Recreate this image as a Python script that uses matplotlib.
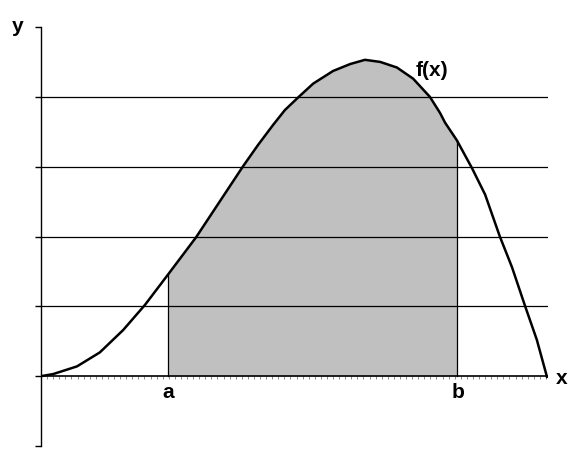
import matplotlib
matplotlib.use("Agg")
import matplotlib.pyplot as plt
import numpy as np

# curve f(x)
curve_x = [0.0, 0.24, 0.71, 1.16, 1.62, 2.05, 2.50, 3.06, 3.98, 4.28, 4.58, 4.81, 5.07,
           5.37, 5.76, 6.10, 6.39, 6.69, 7.02, 7.34, 7.67, 7.87, 7.97, 8.20, 8.50, 8.76,
           9.05, 9.29, 9.55, 9.78, 9.98]
curve_y = [0.0, 0.03, 0.14, 0.34, 0.66, 1.02, 1.45, 1.99, 3.00, 3.31, 3.60, 3.81, 3.99,
           4.19, 4.37, 4.47, 4.53, 4.50, 4.42, 4.26, 4.00, 3.77, 3.63, 3.38, 2.98, 2.60,
           2.00, 1.56, 1.00, 0.52, -0.01]
a_val = 2.50
b_val = 8.20
grid_levels = [1, 2, 3, 4]

fig = plt.figure(figsize=(5.86, 4.76), dpi=100)
ax = fig.add_axes([41/586, 1 - 446/476, 507/586, (446 - 27)/476])
ax.set_xlim(0, 10)
ax.set_ylim(-1, 5)

cx = np.array(curve_x)
cy = np.array(curve_y)
mask = (cx >= a_val) & (cx <= b_val)
ax.fill_between(cx[mask], 0, cy[mask], color="#c0c0c0", lw=0, zorder=1)

for g in grid_levels:
    ax.axhline(g, color="black", lw=0.9, zorder=2)
ax.axhline(0, color="black", lw=1.2, zorder=3)

ia = curve_x.index(a_val)
ib = curve_x.index(b_val)
ax.plot([a_val, a_val], [0, curve_y[ia]], color="black", lw=0.9, zorder=3)
ax.plot([b_val, b_val], [0, curve_y[ib]], color="black", lw=0.9, zorder=3)

ax.plot(cx, cy, color="black", lw=1.8, zorder=4, solid_joinstyle="round")

for s in ["top", "right", "bottom"]:
    ax.spines[s].set_visible(False)
ax.spines["left"].set_linewidth(1.0)
ax.set_yticks([-1, 0, 1, 2, 3, 4, 5])
ax.set_yticklabels([])
ax.tick_params(axis="y", length=4, width=1, direction="out")
ax.set_xticks([])
ax.set_xticks(np.arange(0.12, 10, 0.12), minor=True)
ax.tick_params(axis="x", which="minor", length=2, width=0.6, color="#777777",
               direction="out", pad=0)
ax.spines["bottom"].set_position(("data", 0))

fp = dict(family="Liberation Sans", fontweight="bold", fontsize=15)
fig.text(18/586, 1 - 27/476, "y", ha="center", va="center", **fp)
fig.text(562/586, 1 - 379/476, "x", ha="center", va="center", **fp)
fig.text(168/586, 1 - 392/476, "a", ha="center", va="center", **fp)
fig.text(458/586, 1 - 392/476, "b", ha="center", va="center", **fp)
fig.text(432/586, 1 - 70/476, "f(x)", ha="center", va="center", **fp)

fig.savefig("out.png", dpi=100)
